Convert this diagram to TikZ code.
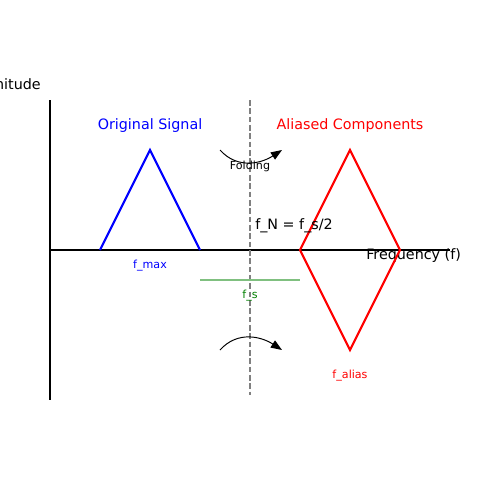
\documentclass[tikz,border=0pt]{standalone}
\usepackage{fontspec}
\setmainfont{DejaVu Sans}
\usetikzlibrary{arrows.meta, positioning}

\definecolor{foldgreen}{HTML}{80C080}
\definecolor{labelgreen}{HTML}{008000}

\begin{document}
\begin{tikzpicture}[
  x=0.72pt, y=-0.72pt,
  axisline/.style={black, line width=1.5pt},
  signalline/.style={blue, line width=1.5pt, line join=miter},
  aliasline/.style={red, line width=1.5pt, line join=miter},
  nyquistline/.style={gray, line width=1.1pt, dash pattern=on 4pt off 2pt},
  sampleline/.style={foldgreen, line width=1.1pt},
  foldarrow/.style={-{Triangle[length=8pt, width=6pt]}, black, line width=0.7pt},
  title/.style={font=\fontsize{10.3}{12}\selectfont, inner sep=0pt},
  small/.style={font=\fontsize{8}{10}\selectfont, inner sep=0pt}
]
\useasboundingbox (0,0) rectangle (500,500);

% Axes
\coordinate (origin) at (50,250);
\coordinate (ytop) at (50,100);
\coordinate (ybot) at (50,400);
\coordinate (xend) at (450,250);
\draw[axisline] (ytop) -- (ybot);
\draw[axisline] (origin) -- (xend);
\node[title, anchor=east] (ylabel) at (41,86) {Magnitude};
\node[title, anchor=west] (xlabel) at (366,256) {Frequency (f)};

% Original signal
\coordinate (s0) at (100,250);
\coordinate (s1) at (150,150);
\coordinate (s2) at (200,250);
\draw[signalline] (s0) -- (s1) -- (s2);
\node[title, blue] (sigtitle) at (150,126) {Original Signal};
\node[small, blue] (fmax) at (150,266) {f\_max};

% Aliased components
\coordinate (a0) at (300,250);
\coordinate (a1) at (350,150);
\coordinate (a2) at (400,250);
\coordinate (a3) at (350,350);
\draw[aliasline] (a0) -- (a1) -- (a2) -- (a3) -- cycle;
\node[title, red] (aliastitle) at (350,126) {Aliased Components};
\node[small, red] (falias) at (350,376) {f\_alias};

% Nyquist frequency
\coordinate (ntop) at (250,100);
\coordinate (nbot) at (250,395);
\draw[nyquistline] (ntop) -- (nbot);
\node[title, anchor=west] (fn) at (255,226) {f\_N = f\_s/2};

% Sampling frequency
\coordinate (fs0) at (200,280);
\coordinate (fs1) at (300,280);
\draw[sampleline] (fs0) -- (fs1);
\node[small, labelgreen] (fs) at (250,296) {f\_s};

% Folding arrows
\coordinate (ft0) at (220,150);
\coordinate (ft1) at (282,150);
\coordinate (fb0) at (220,350);
\coordinate (fb1) at (282,350);
\draw[foldarrow] (ft0) .. controls (238,170) and (262,163) .. (ft1);
\draw[foldarrow] (fb0) .. controls (238,330) and (262,337) .. (fb1);
\node[small] (folding) at (250,166) {Folding};

\end{tikzpicture}
\end{document}
